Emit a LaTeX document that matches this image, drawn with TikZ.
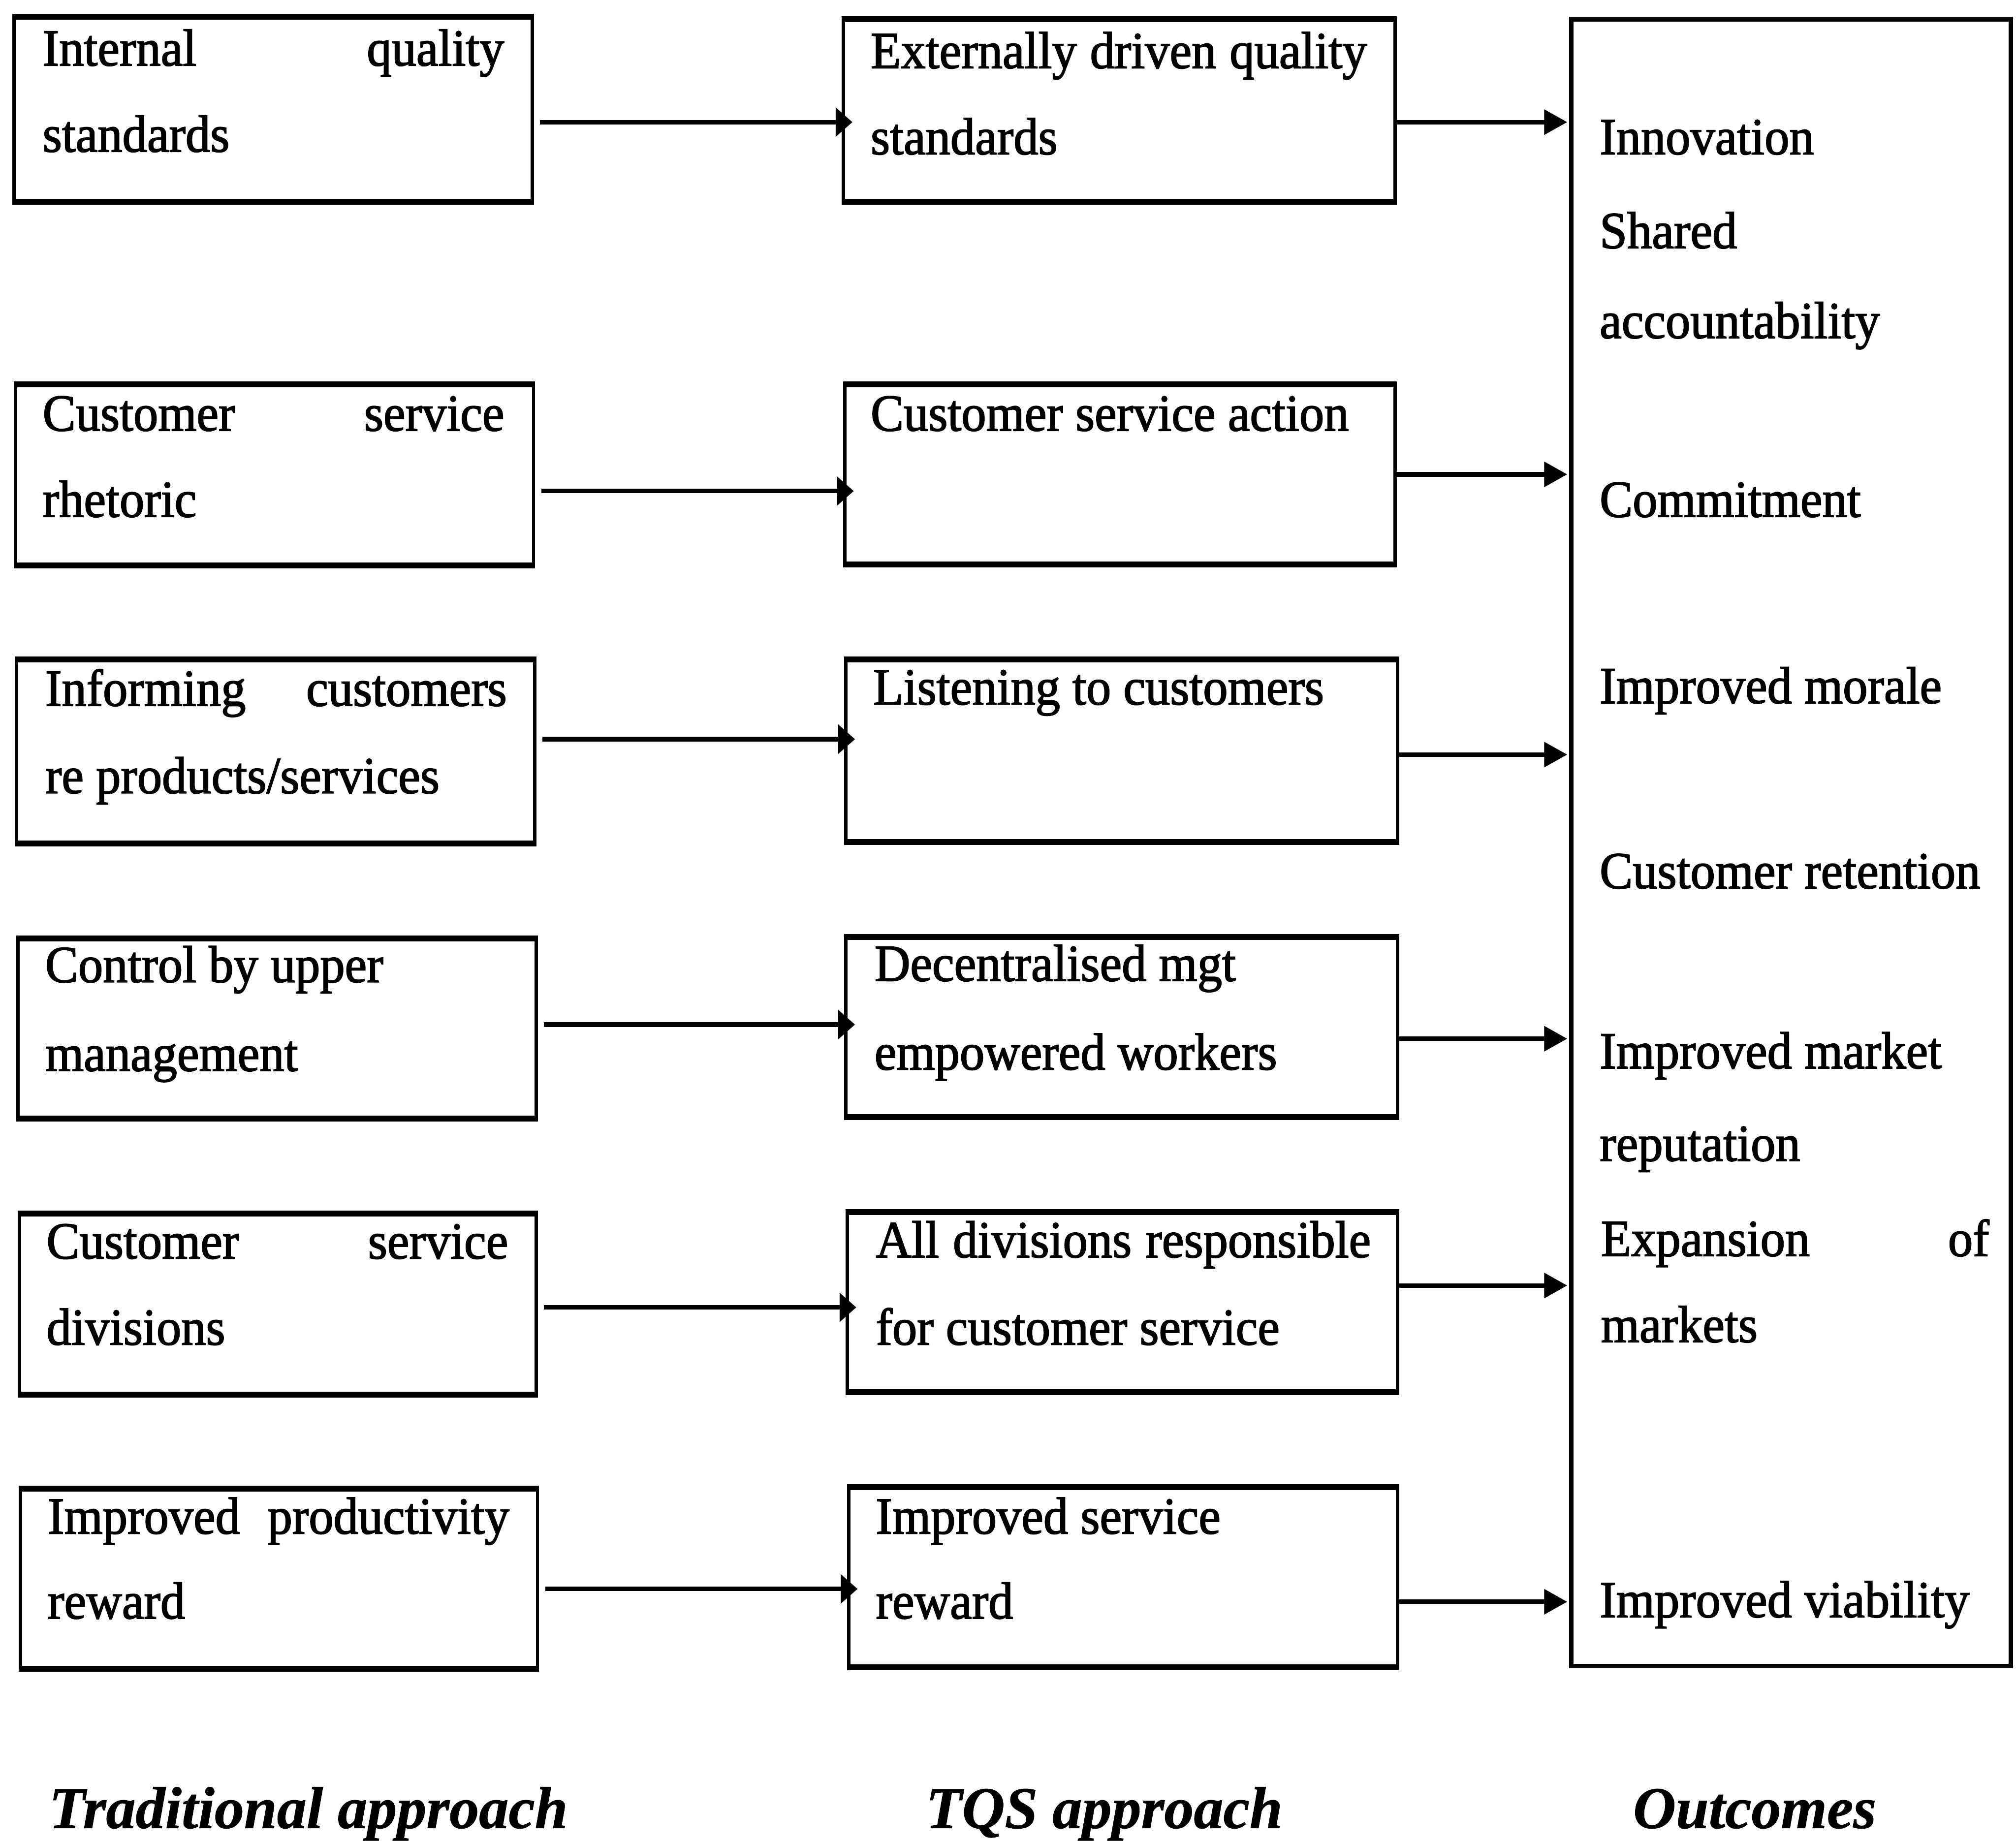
\documentclass[tikz,border=0pt]{standalone}
\usepackage{fontspec}
\setmainfont{Liberation Serif}
\newfontfamily\boxfont{Liberation Serif}[FakeBold=1.8,FakeStretch=0.95]
\newfontfamily\capfont{Liberation Serif}[FakeBold=0.8]
\usetikzlibrary{arrows.meta}

% frame: name, x1, y1, x2, y2 (border centre lines)
\newcommand{\mkframe}[5]{%
  \node[frame, minimum width={#4-#2}, minimum height={#5-#3}] (#1)
    at ({(#2+#4)/2},{(#3+#5)/2}) {};}

\begin{document}
\begin{tikzpicture}[x=1pt,y=-1pt,
  frame/.style={draw, line width=2.6pt, inner sep=0pt, outer sep=0pt},
  edge/.style={line width=4.6pt, shorten <=-1.3pt, shorten >=-1.3pt},
  txt/.style={anchor=base west, inner sep=0pt, font=\fontsize{40.5}{48}\boxfont},
  heading/.style={anchor=base west, inner sep=0pt, font=\fontsize{46}{54}\capfont\bfseries\itshape},
  conn/.style={line width=3.5pt, -{Triangle[length=13pt,width=22pt]}, shorten <=6pt, shorten >=-7pt},
  feed/.style={line width=3.5pt, -{Triangle[length=18pt,width=19pt]}, shorten >=3pt},
]
\useasboundingbox (0,0) rectangle (1568,1432);

% traditional approach column
\mkframe{L1}{11}{13}{414}{157}
\mkframe{L2}{12}{299}{415}{440}
\mkframe{L3}{13}{513}{416}{656}
\mkframe{L4}{14}{730}{417}{870}
\mkframe{L5}{15}{944}{417}{1085}
\mkframe{L6}{16}{1158}{418}{1298}
% TQS approach column
\mkframe{M1}{656}{15}{1085}{157}
\mkframe{M2}{657}{299}{1085}{439}
\mkframe{M3}{658}{513}{1087}{655}
\mkframe{M4}{658}{729}{1087}{869}
\mkframe{M5}{659}{943}{1087}{1083}
\mkframe{M6}{660}{1157}{1087}{1297}
% heavier top and bottom rules
\foreach \n in {L1,L2,L3,L4,L5,L6,M1,M2,M3,M4,M5,M6}{
  \draw[edge] (\n.north west) -- (\n.north east);
  \draw[edge] (\n.south west) -- (\n.south east);
}
% outcomes column
\node[draw, line width=3.6pt, inner sep=0pt, outer sep=0pt,
      minimum width=342pt, minimum height=1281pt] (R) at (1393,655.5) {};

% box texts
\node[txt] (t11) at (33,51)  {\makebox[359pt][s]{Internal quality}};
\node[txt] (t12) at (33,118) {standards};
\node[txt] (t21) at (33,335) {\makebox[359pt][s]{Customer service}};
\node[txt] (t22) at (33,402) {rhetoric};
\node[txt] (t31) at (35,549) {\makebox[359pt][s]{Informing customers}};
\node[txt] (t32) at (35,617) {re products/services};
\node[txt] (t41) at (35,764) {Control by upper};
\node[txt] (t42) at (35,833) {management};
\node[txt] (t51) at (36,979) {\makebox[359pt][s]{Customer service}};
\node[txt] (t52) at (36,1046) {divisions};
\node[txt] (t61) at (37,1193) {\makebox[359pt][s]{Improved productivity}};
\node[txt] (t62) at (37,1259) {reward};

\node[txt] (s11) at (677,53)  {\makebox[386pt][s]{Externally driven quality}};
\node[txt] (s12) at (677,120) {standards};
\node[txt] (s21) at (677,335) {Customer service action};
\node[txt] (s31) at (679,548) {Listening to customers};
\node[txt] (s41) at (680,763) {Decentralised mgt};
\node[txt] (s42) at (680,832) {empowered workers};
\node[txt] (s51) at (681,978) {\makebox[385pt][s]{All divisions responsible}};
\node[txt] (s52) at (681,1046) {for customer service};
\node[txt] (s61) at (681,1193) {Improved service};
\node[txt] (s62) at (681,1259) {reward};

\node[txt] (o1)  at (1244,120)  {Innovation};
\node[txt] (o2)  at (1244,193)  {Shared};
\node[txt] (o3)  at (1244,263)  {accountability};
\node[txt] (o4)  at (1244,402)  {Commitment};
\node[txt] (o5)  at (1244,547)  {Improved morale};
\node[txt] (o6)  at (1244,691)  {Customer retention};
\node[txt] (o7)  at (1244,831)  {Improved market};
\node[txt] (o8)  at (1244,903)  {reputation};
\node[txt] (o9)  at (1245,977)  {\makebox[302pt][s]{Expansion of}};
\node[txt] (o10) at (1245,1044) {markets};
\node[txt] (o11) at (1244,1258) {Improved viability};

% column headings
\node[heading] (h1) at (38,1422)   {Traditional approach};
\node[heading] (h2) at (720,1422)  {TQS approach};
\node[heading] (h3) at (1270,1422) {Outcomes};

% arrow heights
\coordinate (a1) at (0,95);   \coordinate (b1) at (0,95);
\coordinate (a2) at (0,382);  \coordinate (b2) at (0,369);
\coordinate (a3) at (0,575);  \coordinate (b3) at (0,587);
\coordinate (a4) at (0,797);  \coordinate (b4) at (0,808);
\coordinate (a5) at (0,1017); \coordinate (b5) at (0,1000);
\coordinate (a6) at (0,1236); \coordinate (b6) at (0,1246);

\foreach \i in {1,...,6}{
  \draw[conn] (L\i.east |- a\i) -- (M\i.west |- a\i);
  \draw[feed] (M\i.east |- b\i) -- (R.west |- b\i);
}
\end{tikzpicture}
\end{document}
